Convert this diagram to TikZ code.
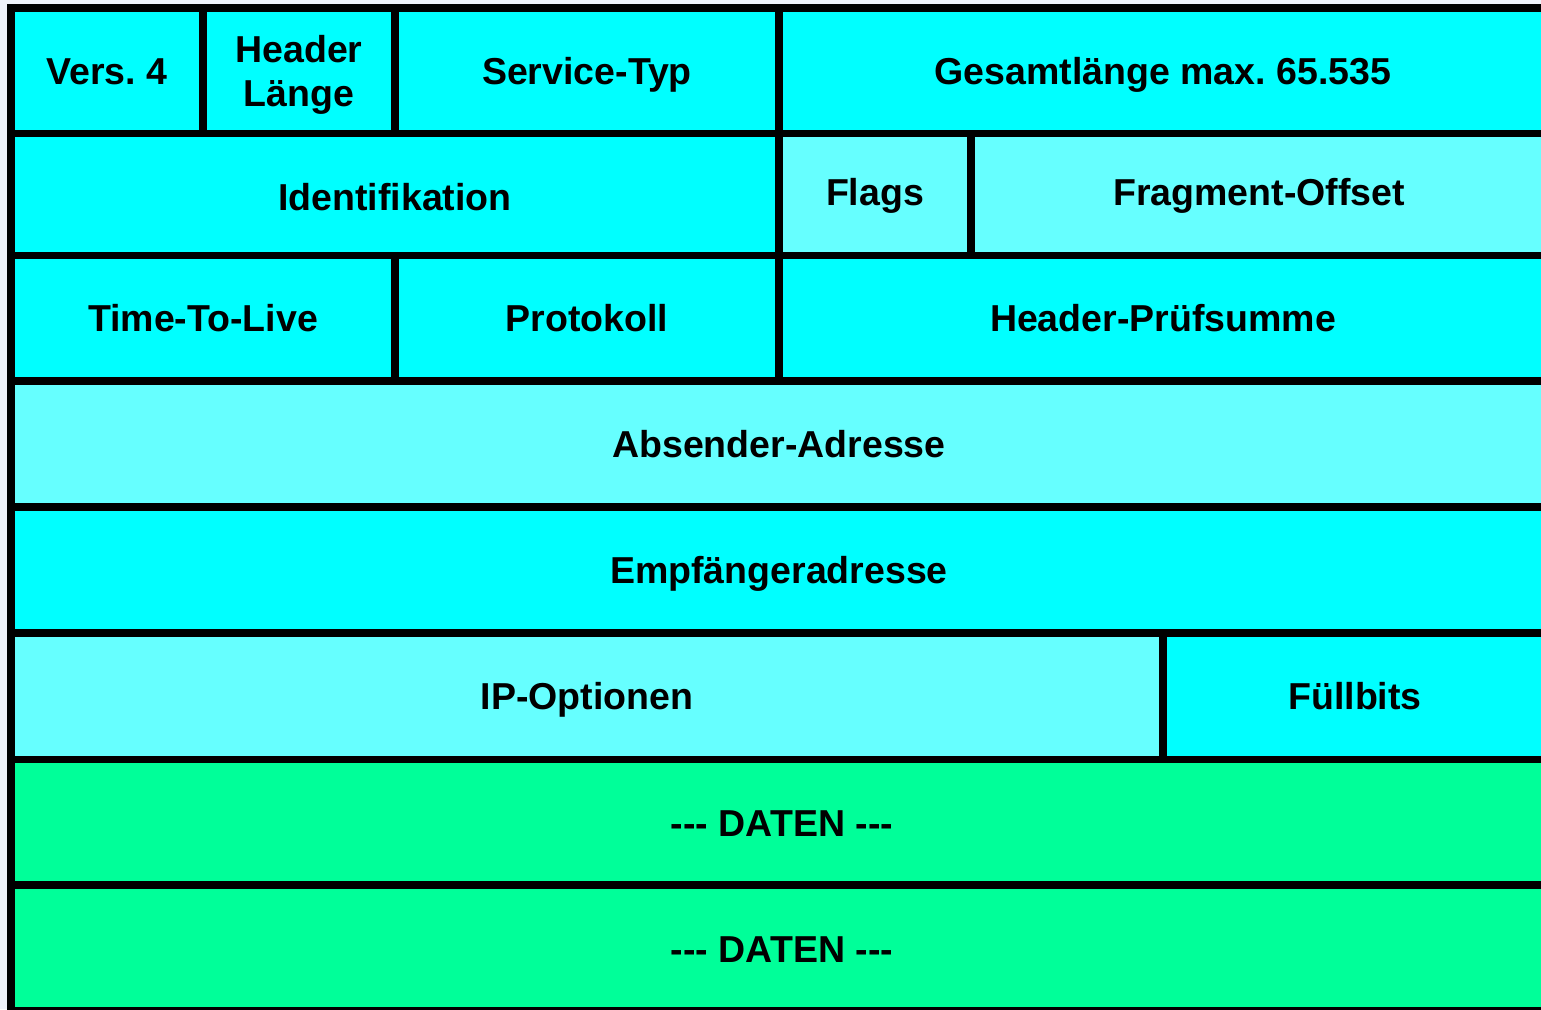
\documentclass[tikz,border=0pt]{standalone}
\usepackage{fontspec}
\setmainfont{Liberation Sans}[Ligatures=NoCommon]
\definecolor{margin}{RGB}{240,242,250}
\definecolor{cyanA}{RGB}{0,255,255}
\definecolor{cyanB}{RGB}{102,255,255}
\definecolor{datagreen}{RGB}{0,255,153}
\tikzset{
  cell/.style={draw=black, line width=7.5pt},
  lbl/.style={font=\fontsize{37.5}{43.5}\selectfont\bfseries\frenchspacing, text=black,
              align=center, inner sep=0pt, anchor=base},
}
\begin{document}
\begin{tikzpicture}[x=1pt, y=-1pt]
\useasboundingbox (0,0) rectangle (1541,1009);
\clip (0,0) rectangle (1541,1009);
\fill[margin] (0,0) rectangle (1541,1009);
% row 1
\path[cell, fill=cyanA] (11,8) rectangle (203,133.5);
\path[cell, fill=cyanA] (203,8) rectangle (395,133.5);
\path[cell, fill=cyanA] (395,8) rectangle (779,133.5);
\path[cell, fill=cyanA] (779,8) rectangle (1547,133.5);
\node[lbl] (vers) at (107,84.5) {Vers. 4};
\node[lbl] (hlen) at (299,106) {Header\\Länge};
\node[lbl] (tos) at (587,84.3) {Service-Typ};
\node[lbl] (total) at (1163,84.3) {Gesamtlänge max. 65.535};
% row 2
\path[cell, fill=cyanA] (11,133.5) rectangle (779,255.5);
\path[cell, fill=cyanB] (779,133.5) rectangle (971,255.5);
\path[cell, fill=cyanB] (971,133.5) rectangle (1547,255.5);
\node[lbl] (ident) at (395,210) {Identifikation};
\node[lbl] (flags) at (875,205.7) {Flags};
\node[lbl] (frag) at (1259,205.7) {Fragment-Offset};
% row 3
\path[cell, fill=cyanA] (11,255.5) rectangle (395,381);
\path[cell, fill=cyanA] (395,255.5) rectangle (779,381);
\path[cell, fill=cyanA] (779,255.5) rectangle (1547,381);
\node[lbl] (ttl) at (203,331.7) {Time-To-Live};
\node[lbl] (proto) at (587,331.7) {Protokoll};
\node[lbl] (csum) at (1163,331.7) {Header-Prüfsumme};
% row 4
\path[cell, fill=cyanB] (11,381) rectangle (1547,507);
\node[lbl] (src) at (779,457.7) {Absender-Adresse};
% row 5
\path[cell, fill=cyanA] (11,507) rectangle (1547,633);
\node[lbl] (dst) at (779,583.5) {Empfängeradresse};
% row 6
\path[cell, fill=cyanB] (11,633) rectangle (1163,759.5);
\path[cell, fill=cyanA] (1163,633) rectangle (1547,759.5);
\node[lbl] (opts) at (587,709.3) {IP-Optionen};
\node[lbl] (pad) at (1355,709.3) {Füllbits};
% data rows
\path[cell, fill=datagreen] (11,759.5) rectangle (1547,885);
\path[cell, fill=datagreen] (11,885) rectangle (1547,1011);
\node[lbl] (data1) at (782,836) {-{}-{}- DATEN -{}-{}-};
\node[lbl] (data2) at (782,962) {-{}-{}- DATEN -{}-{}-};
\end{tikzpicture}
\end{document}
